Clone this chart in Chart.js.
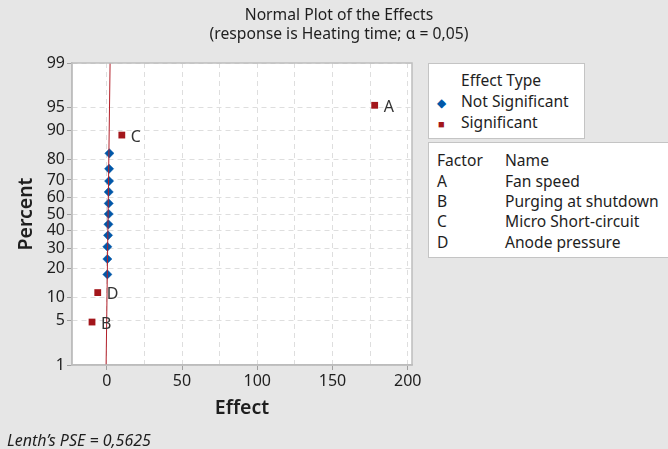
<!DOCTYPE html>
<html>
<head>
<meta charset="utf-8">
<script src="https://cdn.jsdelivr.net/npm/chart.js@4"></script>
<style>
  body { margin: 0; background: #e6e6e6; font-family: "Noto Sans", sans-serif; color: #1e1e1e; }
  #wrap { position: relative; width: 668px; height: 449px; overflow: hidden; }
  #myChart { position: absolute; left: 0; top: 0; }
  .title { position: absolute; left: 139px; width: 400px; text-align: center; font-size: 15.7px; }
  .box { position: absolute; background: #fff; border: 1px solid #c4c4c4; font-size: 15.6px; }
  .row { position: absolute; white-space: nowrap; }
  .foot { position: absolute; left: 7px; top: 429px; font-size: 16px; font-style: italic; }
</style>
</head>
<body>
<div id="wrap">
  <canvas id="myChart" width="668" height="449"></canvas>
  <div class="title" style="top:3px">Normal Plot of the Effects</div>
  <div class="title" style="top:22px">(response is Heating time; α = 0,05)</div>

  <div class="box" style="left:428px;top:63px;width:155px;height:74px">
    <div class="row" style="left:32px;top:5px">Effect Type</div>
    <div class="row" style="left:8px;top:26px"><span style="color:#0057a8;font-size:12px">◆</span></div>
    <div class="row" style="left:32px;top:26px">Not Significant</div>
    <div class="row" style="left:9px;top:47px"><span style="color:#a3161b;font-size:11px">■</span></div>
    <div class="row" style="left:32px;top:47px">Significant</div>
  </div>

  <div class="box" style="left:428px;top:142px;width:260px;height:114px">
    <div class="row" style="left:8px;top:6px">Factor</div>
    <div class="row" style="left:76px;top:6px">Name</div>
    <div class="row" style="left:8px;top:27px">A</div>
    <div class="row" style="left:76px;top:27px">Fan speed</div>
    <div class="row" style="left:8px;top:47px">B</div>
    <div class="row" style="left:76px;top:47px">Purging at shutdown</div>
    <div class="row" style="left:8px;top:67px">C</div>
    <div class="row" style="left:76px;top:67px">Micro Short-circuit</div>
    <div class="row" style="left:8px;top:88px">D</div>
    <div class="row" style="left:76px;top:88px">Anode pressure</div>
  </div>

  <div class="foot">Lenth’s PSE = 0,5625</div>
</div>

<script>
// effects of the non significant terms and their percent positions
const notSigEffect = [0.4, 0.4, 0.4, 0.85, 1.1, 1.3, 1.3, 1.3, 1.55, 1.55, 1.75];
const notSigPercent = [17.6, 24.4, 30.7, 37.1, 43.7, 50, 56.5, 63.3, 69.4, 75.7, 82.5];

// significant terms
const sigNames = ['B', 'D', 'C', 'A'];
const sigEffect = [-9.8, -6.0, 10.0, 178];
const sigPercent = [4.8, 11.3, 88.8, 95.3];

// fitted line ends
const lineEffect = [-0.44, 2.2];
const linePercent = [1, 99];

const yTicks = [1, 5, 10, 20, 30, 40, 50, 60, 70, 80, 90, 95, 99];

// inverse normal cdf (Acklam)
function probit(p) {
  const a = [-39.69683028665376, 220.9460984245205, -275.9285104469687, 138.3577518672690, -30.66479806614716, 2.506628277459239];
  const b = [-54.47609879822406, 161.5858368580409, -155.6989798598866, 66.80131188771972, -13.28068155288572];
  const c = [-0.007784894002430293, -0.3223964580411365, -2.400758277161838, -2.549732539343734, 4.374664141464968, 2.938163982698783];
  const d = [0.007784695709041462, 0.3224671290700398, 2.445134137142996, 3.754408661907416];
  const pl = 0.02425;
  let q, r;
  if (p < pl) {
    q = Math.sqrt(-2 * Math.log(p));
    return (((((c[0]*q+c[1])*q+c[2])*q+c[3])*q+c[4])*q+c[5]) / ((((d[0]*q+d[1])*q+d[2])*q+d[3])*q+1);
  }
  if (p > 1 - pl) {
    q = Math.sqrt(-2 * Math.log(1 - p));
    return -(((((c[0]*q+c[1])*q+c[2])*q+c[3])*q+c[4])*q+c[5]) / ((((d[0]*q+d[1])*q+d[2])*q+d[3])*q+1);
  }
  q = p - 0.5; r = q * q;
  return (((((a[0]*r+a[1])*r+a[2])*r+a[3])*r+a[4])*r+a[5])*q / (((((b[0]*r+b[1])*r+b[2])*r+b[3])*r+b[4])*r+1);
}

function cdf(z) {
  // bisection back to percent
  let lo = 0.0001, hi = 99.9999;
  for (let i = 0; i < 60; i++) {
    const m = (lo + hi) / 2;
    if (probit(m / 100) < z) lo = m; else hi = m;
  }
  return (lo + hi) / 2;
}

class ProbabilityScale extends Chart.LinearScale {
  buildTicks() {
    return yTicks.filter(v => v >= this.min && v <= this.max).map(v => ({ value: v }));
  }
  getPixelForValue(v) {
    const z0 = probit(this.min / 100), z1 = probit(this.max / 100);
    return this.getPixelForDecimal((probit(v / 100) - z0) / (z1 - z0));
  }
  getValueForPixel(px) {
    const z0 = probit(this.min / 100), z1 = probit(this.max / 100);
    return cdf(z0 + this.getDecimalForPixel(px) * (z1 - z0));
  }
}
ProbabilityScale.id = 'probability';
ProbabilityScale.defaults = Chart.LinearScale.defaults;
Chart.register(ProbabilityScale);

const plotBg = {
  id: 'plotBg',
  beforeDraw(chart) {
    const { ctx, chartArea: a } = chart;
    ctx.save();
    ctx.fillStyle = '#ffffff';
    ctx.fillRect(a.left, a.top, a.right - a.left, a.bottom - a.top);
    ctx.restore();
  },
  afterDraw(chart) {
    const { ctx, chartArea: a } = chart;
    ctx.save();
    ctx.strokeStyle = '#bdbdbd';
    ctx.lineWidth = 1.5;
    ctx.strokeRect(a.left, a.top, a.right - a.left, a.bottom - a.top);
    ctx.restore();
  }
};

const pointLabels = {
  id: 'pointLabels',
  afterDatasetsDraw(chart) {
    const ctx = chart.ctx;
    const meta = chart.getDatasetMeta(2);
    ctx.save();
    ctx.font = '16px "Noto Sans"';
    ctx.fillStyle = '#333';
    ctx.textBaseline = 'middle';
    meta.data.forEach((pt, i) => ctx.fillText(sigNames[i], pt.x + 9, pt.y + 2));
    ctx.restore();
  }
};

const ctx = document.getElementById('myChart');

new Chart(ctx, {
  type: 'scatter',
  data: {
    datasets: [{
      type: 'line',
      data: lineEffect.map((x, i) => ({ x: x, y: linePercent[i] })),
      borderColor: '#b3202a',
      borderWidth: 1,
      pointRadius: 0
    }, {
      data: notSigEffect.map((x, i) => ({ x: x, y: notSigPercent[i] })),
      pointStyle: 'rectRot',
      pointRadius: 4.6,
      backgroundColor: '#0057a8',
      borderColor: '#0057a8',
      borderWidth: 0.5
    }, {
      data: sigEffect.map((x, i) => ({ x: x, y: sigPercent[i] })),
      pointStyle: 'rect',
      pointRadius: 4.8,
      backgroundColor: '#a3161b',
      borderColor: '#a3161b',
      borderWidth: 0
    }]
  },
  options: {
    responsive: false,
    animation: false,
    layout: { padding: { left: 0, top: 63, right: 256, bottom: 0 } },
    plugins: { legend: { display: false }, tooltip: { enabled: false } },
    scales: {
      x: {
        type: 'linear',
        min: -23.1,
        max: 202.8,
        afterFit: s => { s.height = 84; },
        ticks: {
          stepSize: 25,
          includeBounds: false,
          autoSkip: false,
          maxRotation: 0,
          padding: 2,
          color: '#1e1e1e',
          font: { family: 'Noto Sans', size: 16 },
          callback: v => (v % 50 === 0 ? String(v) : '')
        },
        grid: {
          color: '#dedede',
          tickLength: 5,
          tickColor: c => (c.tick && c.tick.value % 50 === 0 ? '#a0a0a0' : 'rgba(0,0,0,0)')
        },
        border: { color: '#bdbdbd', width: 1.5, dash: [5, 4] },
        title: {
          display: true,
          text: 'Effect',
          color: '#1e1e1e',
          font: { family: 'Noto Sans', size: 19.5, weight: '600' },
          padding: { top: 0, bottom: 29 }
        }
      },
      y: {
        type: 'probability',
        min: 1,
        max: 99,
        afterFit: s => { s.width = 72; },
        ticks: {
          autoSkip: false,
          padding: 2,
          color: '#1e1e1e',
          font: { family: 'Noto Sans', size: 16 },
          callback: v => String(v)
        },
        grid: { color: '#dedede', tickLength: 5, tickColor: '#a0a0a0' },
        border: { color: '#bdbdbd', width: 1.5, dash: [5, 4] },
        title: {
          display: true,
          text: 'Percent',
          color: '#1e1e1e',
          font: { family: 'Noto Sans', size: 19.5, weight: '600' },
          padding: { top: 15, bottom: 0 }
        }
      }
    }
  },
  plugins: [plotBg, pointLabels]
});
</script>
</body>
</html>
